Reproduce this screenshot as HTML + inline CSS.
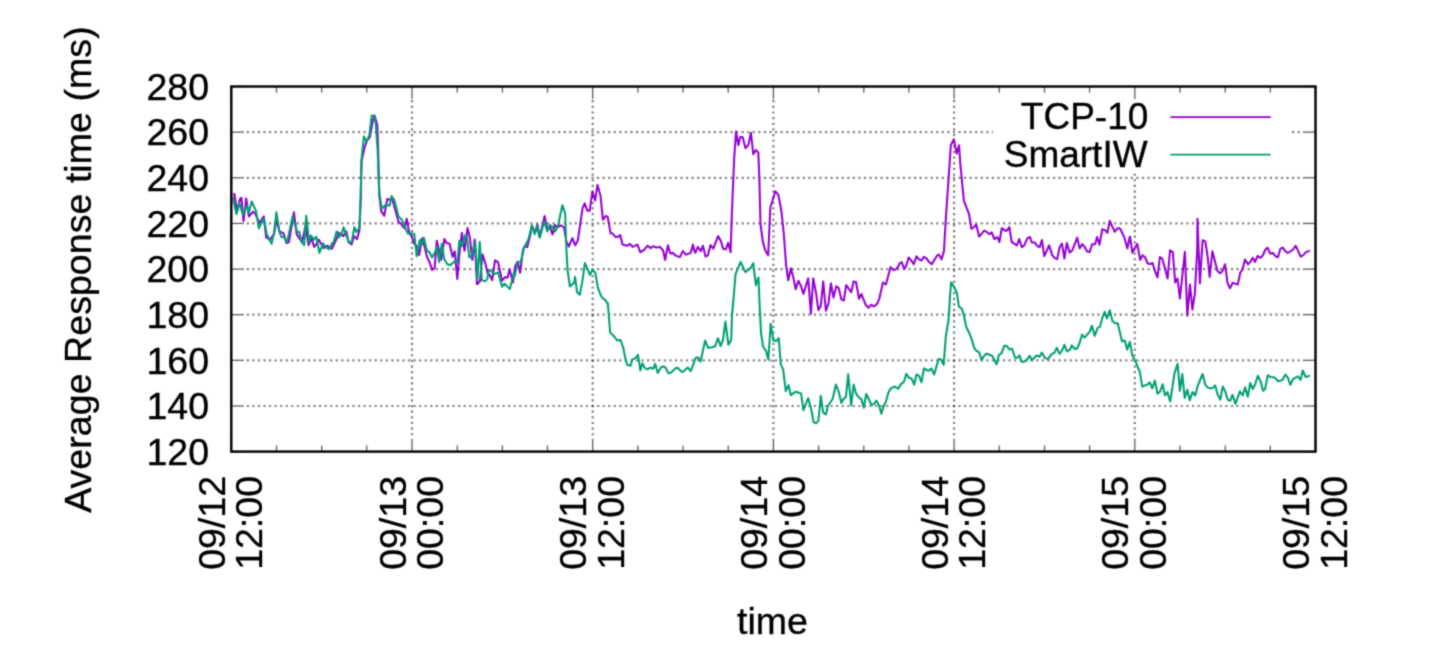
<!DOCTYPE html>
<html lang="en"><head><meta charset="utf-8"><title>Average Response time</title>
<style>
html,body{margin:0;padding:0;background:#fff;}
body{width:1432px;height:670px;overflow:hidden;}
svg{display:block;}
text{font-family:"Liberation Sans",Arial,Helvetica,sans-serif;font-size:37.5px;fill:#000;stroke:#000;stroke-width:.35px;}
.grid line{stroke:#000;stroke-width:2.2;}
.gh line{stroke-dasharray:2.2 3.36;stroke-dashoffset:1.25;stroke-opacity:.48;}
.gv line{stroke-dasharray:2.2 3.445;stroke-dashoffset:.7;stroke-opacity:.5;}
.tick line{stroke:#000;stroke-width:1.3;stroke-opacity:.62;}
.tickbg line{stroke:#fff;stroke-width:2.6;}
</style></head><body>
<svg width="1432" height="670" viewBox="0 0 1432 670">
<defs><filter id="soft" x="0" y="0" width="100%" height="100%" filterUnits="objectBoundingBox" color-interpolation-filters="sRGB"><feConvolveMatrix order="3" kernelMatrix="0.0311 0.1141 0.0311 0.1141 0.4191 0.1141 0.0311 0.1141 0.0311" divisor="1" edgeMode="duplicate" preserveAlpha="true"/></filter></defs>
<g filter="url(#soft)">
<rect width="1432" height="670" fill="#fff"/>
<g class="grid gh">
<line x1="231.3" y1="132.1" x2="1315.5" y2="132.1"/>
<line x1="231.3" y1="177.8" x2="1315.5" y2="177.8"/>
<line x1="231.3" y1="223.4" x2="1315.5" y2="223.4"/>
<line x1="231.3" y1="269.1" x2="1315.5" y2="269.1"/>
<line x1="231.3" y1="314.7" x2="1315.5" y2="314.7"/>
<line x1="231.3" y1="360.3" x2="1315.5" y2="360.3"/>
<line x1="231.3" y1="406.0" x2="1315.5" y2="406.0"/>
</g><g class="grid gv">
<line x1="412.0" y1="451.6" x2="412.0" y2="86.5"/>
<line x1="592.7" y1="451.6" x2="592.7" y2="86.5"/>
<line x1="773.4" y1="451.6" x2="773.4" y2="86.5"/>
<line x1="954.1" y1="451.6" x2="954.1" y2="86.5"/>
<line x1="1134.8" y1="451.6" x2="1134.8" y2="86.5"/>
</g>
<rect x="993" y="98" width="299" height="75.5" fill="#fff"/>
<path d="M232.8,194.3 L234.6,194.3 L237.0,212.3 L239.9,199.1 L241.4,197.9 L243.5,221.2 L246.2,198.5 L248.9,216.4 L253.1,211.7 L255.5,214.0 L259.3,223.0 L263.8,216.4 L266.2,237.3 L269.8,239.7 L274.0,234.4 L276.4,219.4 L279.4,231.4 L283.5,233.2 L286.5,243.3 L288.9,242.1 L293.9,212.3 L296.7,234.4 L302.1,242.1 L305.6,225.4 L308.6,245.1 L311.6,238.5 L314.2,246.9 L317.0,243.3 L318.8,239.7 L323.6,248.1 L327.1,245.7 L331.9,248.7 L336.7,238.5 L338.5,232.6 L343.3,236.1 L346.3,231.4 L348.6,242.1 L351.6,244.5 L354.0,236.1 L357.0,239.1 L359.4,230.2 L360.8,197.9 L361.5,160.9 L364.5,147.8 L366.9,140.6 L369.9,137.0 L372.8,120.3 L374.6,115.5 L377.3,125.1 L378.2,150.2 L378.8,180.0 L379.2,194.3 L381.2,211.1 L384.2,215.8 L387.2,199.1 L389.6,199.7 L392.0,197.9 L398.5,221.8 L400.9,223.6 L404.5,228.4 L406.7,218.8 L409.0,231.7 L411.9,237.1 L414.3,243.7 L416.7,246.1 L419.1,255.0 L422.1,238.3 L424.5,246.1 L426.9,256.8 L429.3,261.6 L432.3,269.9 L434.6,268.2 L436.8,240.7 L438.8,249.6 L441.2,259.8 L444.4,238.9 L446.6,243.1 L449.6,243.7 L452.6,256.8 L454.7,251.4 L457.3,278.9 L459.7,250.8 L461.9,232.9 L464.5,250.8 L467.5,228.1 L469.9,237.7 L472.3,259.8 L474.7,239.5 L477.0,284.3 L480.0,281.3 L482.4,254.4 L485.4,263.4 L487.8,274.1 L489.6,274.7 L492.2,280.1 L495.0,260.4 L498.0,262.2 L502.1,280.7 L505.1,277.1 L507.5,277.7 L509.7,269.4 L512.9,282.5 L515.3,265.8 L517.7,261.6 L520.1,272.9 L523.0,249.6 L524.8,246.1 L527.2,247.3 L530.2,235.3 L532.0,225.8 L535.0,232.9 L537.4,224.6 L539.2,234.1 L539.8,236.9 L544.6,216.0 L547.3,230.3 L549.7,226.1 L552.5,234.5 L554.8,224.9 L556.9,227.3 L561.1,225.5 L564.0,227.3 L566.4,241.7 L568.8,246.5 L572.4,238.1 L575.2,245.3 L577.8,240.5 L582.6,208.2 L584.7,203.4 L587.3,210.6 L589.7,210.6 L592.4,191.5 L595.1,200.5 L597.5,184.9 L600.5,195.7 L602.9,219.6 L605.9,216.0 L607.6,216.6 L610.6,233.3 L612.4,233.3 L615.4,236.9 L617.8,236.9 L620.2,235.1 L622.5,244.6 L626.7,245.8 L630.0,244.0 L632.6,246.9 L637.4,244.6 L640.4,252.3 L644.0,249.9 L647.6,245.8 L650.6,248.1 L653.0,246.3 L656.5,247.5 L660.1,246.9 L663.1,250.5 L665.1,260.1 L667.9,245.2 L670.3,253.5 L672.7,252.9 L676.2,255.9 L679.8,257.1 L682.8,251.1 L685.8,254.7 L690.6,252.9 L693.0,244.6 L694.2,250.5 L695.4,252.9 L697.8,246.9 L700.8,251.1 L702.9,245.7 L705.5,256.5 L707.9,255.3 L710.5,245.1 L713.3,248.7 L718.1,236.1 L720.8,240.9 L723.2,248.7 L725.8,249.3 L728.2,242.7 L730.6,252.3 L731.8,215.8 L734.2,157.8 L736.0,131.5 L738.4,145.2 L740.2,136.9 L742.6,136.9 L745.5,148.2 L748.5,144.6 L750.9,132.7 L753.3,154.2 L755.7,150.0 L758.3,152.4 L759.3,176.9 L760.5,224.2 L762.9,242.1 L765.3,250.5 L768.2,255.3 L770.3,207.5 L775.4,191.3 L778.4,194.9 L781.4,211.1 L783.8,233.8 L786.1,265.3 L788.2,280.2 L790.9,268.3 L793.3,277.3 L795.7,289.2 L798.4,280.8 L800.8,285.6 L803.4,294.0 L808.2,278.4 L810.9,313.7 L813.2,278.4 L816.0,292.8 L818.4,310.1 L820.8,305.9 L823.2,281.4 L825.9,310.7 L828.5,303.5 L830.9,283.2 L833.5,297.6 L836.3,286.2 L838.7,288.0 L841.4,299.4 L843.8,300.5 L846.2,285.0 L851.2,292.2 L853.6,281.4 L856.0,282.0 L859.0,298.8 L861.4,294.0 L865.6,304.7 L868.5,307.7 L871.3,304.7 L873.9,306.5 L876.9,304.1 L879.3,298.8 L882.9,282.6 L885.9,284.4 L890.6,267.1 L893.6,270.1 L896.6,268.9 L900.0,262.9 L901.8,262.3 L904.2,268.8 L906.0,266.5 L908.6,257.5 L911.3,260.5 L913.7,264.1 L916.5,256.3 L919.1,259.3 L921.5,260.5 L923.9,256.9 L926.3,258.1 L929.3,262.3 L931.7,264.1 L937.0,255.7 L938.8,254.5 L941.6,259.3 L944.0,250.9 L945.4,225.8 L946.6,206.7 L949.6,163.8 L950.8,145.2 L953.8,139.3 L956.7,153.6 L959.1,145.2 L960.3,163.8 L963.9,200.8 L969.0,213.9 L971.4,228.8 L974.1,227.0 L976.2,224.6 L979.1,236.6 L984.2,230.6 L986.6,231.8 L989.4,234.2 L991.7,232.4 L994.4,239.0 L997.4,237.2 L999.4,242.0 L1001.8,228.2 L1005.1,230.6 L1006.9,230.6 L1009.3,227.0 L1011.7,242.0 L1014.7,243.8 L1016.8,245.5 L1019.2,239.0 L1021.8,247.3 L1024.5,244.9 L1027.2,238.4 L1030.0,237.0 L1031.8,242.4 L1034.8,242.4 L1037.2,246.0 L1039.6,247.2 L1041.9,240.0 L1044.3,256.1 L1049.1,245.4 L1052.1,254.9 L1054.5,257.9 L1057.2,259.1 L1059.6,247.2 L1062.0,243.6 L1064.4,258.5 L1066.8,243.0 L1069.7,252.6 L1072.4,250.2 L1077.2,237.6 L1079.6,248.4 L1082.3,244.2 L1084.4,246.6 L1087.1,251.4 L1089.7,252.0 L1092.1,244.2 L1095.1,244.2 L1097.1,237.0 L1099.5,244.8 L1102.3,229.3 L1104.7,229.9 L1107.4,232.8 L1109.8,220.9 L1112.4,226.9 L1114.8,231.7 L1117.8,228.1 L1120.2,228.7 L1124.4,237.6 L1127.4,248.4 L1129.7,237.0 L1130.0,236.7 L1132.4,252.8 L1137.2,243.8 L1140.2,259.9 L1142.5,255.2 L1144.9,257.0 L1147.7,263.5 L1150.3,264.1 L1152.5,262.9 L1154.8,270.7 L1157.5,277.3 L1159.9,257.0 L1162.3,258.8 L1164.6,267.1 L1167.6,278.5 L1170.0,250.4 L1172.8,252.2 L1175.2,282.6 L1177.5,278.5 L1179.9,298.4 L1184.9,251.8 L1187.3,315.7 L1190.0,284.6 L1192.4,309.7 L1194.8,294.2 L1197.2,250.0 L1197.5,218.7 L1199.9,283.4 L1202.6,240.2 L1205.3,241.4 L1207.6,256.4 L1209.7,276.9 L1212.4,251.2 L1215.1,261.9 L1217.5,270.9 L1219.9,273.3 L1222.3,271.5 L1225.0,264.3 L1227.6,283.4 L1230.0,288.2 L1232.7,282.8 L1237.8,284.6 L1240.2,272.7 L1242.6,269.1 L1245.0,259.6 L1248.0,264.3 L1250.3,261.9 L1252.7,257.8 L1255.1,261.9 L1257.5,256.0 L1260.5,257.8 L1262.9,255.4 L1265.1,250.0 L1267.5,247.6 L1270.2,253.6 L1272.9,253.0 L1275.9,256.6 L1277.9,257.2 L1280.3,248.8 L1282.7,247.6 L1285.4,251.2 L1287.8,253.0 L1292.6,250.0 L1295.6,245.8 L1298.0,250.6 L1300.6,256.6 L1303.0,255.4 L1305.7,252.4 L1309.9,250.6" fill="none" stroke="#9400d3" stroke-width="2.05" stroke-linejoin="round" stroke-linecap="butt"/>
<path d="M232.8,196.7 L236.4,214.0 L239.3,202.7 L242.9,214.6 L246.5,205.7 L248.9,212.8 L251.7,201.5 L256.1,211.1 L258.8,228.4 L263.8,218.2 L266.8,234.4 L271.6,243.9 L274.0,232.6 L276.4,212.3 L279.4,231.4 L281.2,236.7 L284.1,237.3 L287.1,242.1 L292.5,217.0 L297.3,232.0 L299.4,232.0 L301.5,242.1 L304.2,245.1 L306.2,215.8 L309.2,242.1 L311.0,235.5 L314.0,239.7 L316.4,236.7 L319.4,252.9 L323.0,243.3 L326.0,247.5 L329.5,249.3 L331.9,243.3 L333.7,242.1 L336.7,231.4 L339.1,237.3 L342.1,232.6 L343.6,227.2 L346.3,235.5 L349.2,242.7 L351.6,242.1 L354.4,227.2 L356.4,232.0 L359.4,227.8 L360.6,197.9 L361.5,159.7 L363.9,136.4 L366.3,141.2 L369.3,135.8 L371.7,115.5 L374.0,116.1 L375.8,123.9 L377.6,150.2 L378.8,180.0 L379.4,193.1 L381.8,208.7 L386.0,204.5 L389.6,205.7 L391.6,196.1 L394.4,200.3 L398.5,216.4 L402.1,220.0 L405.1,227.8 L408.1,233.8 L409.0,232.9 L414.3,234.1 L416.7,256.2 L419.7,240.1 L421.5,244.9 L423.9,237.7 L426.9,250.8 L429.3,252.0 L432.0,257.4 L435.2,252.0 L437.0,246.7 L439.2,262.2 L441.8,243.7 L444.2,259.2 L447.2,264.0 L450.2,265.2 L454.4,261.6 L457.3,262.2 L459.4,240.7 L462.1,246.1 L465.1,235.3 L466.9,236.5 L469.3,257.4 L471.7,255.6 L475.3,242.5 L477.4,280.1 L479.8,241.9 L481.8,280.1 L484.8,281.3 L487.2,279.5 L489.0,269.9 L491.4,271.1 L494.4,274.1 L498.0,272.3 L502.1,286.7 L504.5,283.7 L509.9,289.1 L513.5,274.1 L514.7,275.9 L517.7,262.8 L520.6,262.2 L524.2,247.3 L528.4,239.5 L532.0,225.2 L534.7,234.1 L537.4,225.8 L539.2,236.5 L539.8,237.5 L544.3,221.4 L547.3,231.5 L549.7,224.9 L552.1,226.7 L555.1,231.5 L558.1,225.5 L562.3,205.2 L565.2,213.6 L566.4,248.8 L567.5,269.6 L569.9,286.4 L574.1,282.8 L575.1,276.8 L577.1,292.3 L579.8,294.7 L582.5,280.4 L584.9,263.1 L587.8,269.6 L589.9,275.0 L592.6,269.6 L595.4,273.2 L597.8,287.6 L601.0,295.9 L602.8,298.3 L605.2,300.1 L607.6,303.7 L607.8,303.0 L610.2,332.8 L613.1,335.2 L617.3,340.6 L620.5,340.0 L623.3,347.8 L625.7,360.3 L627.5,365.1 L630.5,365.7 L632.3,359.7 L635.8,357.9 L638.0,354.9 L640.4,370.5 L642.4,363.3 L644.8,368.1 L647.8,369.3 L650.2,367.5 L653.2,368.7 L655.2,363.9 L657.7,372.9 L660.9,367.5 L663.3,366.3 L665.5,367.5 L668.1,372.9 L670.5,372.9 L675.9,368.1 L678.2,368.1 L681.2,371.7 L683.0,371.7 L687.8,367.5 L690.8,371.1 L695.6,357.9 L698.0,357.3 L700.6,361.5 L705.1,340.6 L708.1,347.8 L712.3,347.2 L715.3,346.0 L718.0,338.2 L720.6,346.0 L723.0,340.0 L725.4,321.5 L728.4,344.8 L731.2,340.0 L732.0,315.5 L733.4,300.2 L735.6,273.9 L740.6,261.9 L745.4,272.1 L750.8,267.9 L753.2,263.1 L755.9,285.2 L758.5,277.5 L759.7,307.3 L761.1,333.9 L763.2,347.0 L765.9,350.6 L768.3,359.6 L770.7,323.7 L773.4,340.5 L776.1,341.1 L778.7,338.1 L780.8,364.4 L783.2,369.7 L785.8,391.1 L788.5,385.1 L790.9,395.2 L795.7,391.7 L801.1,393.4 L803.4,410.2 L808.2,398.2 L811.2,409.0 L813.6,422.1 L816.0,423.3 L818.4,420.9 L820.8,395.8 L823.2,412.6 L825.9,414.4 L827.9,406.0 L832.7,398.8 L835.9,384.5 L838.7,391.7 L841.4,403.0 L843.1,399.4 L845.9,397.0 L848.2,374.3 L851.2,405.4 L853.6,384.5 L856.0,393.4 L858.4,397.0 L861.4,399.4 L863.8,407.8 L866.2,394.0 L871.5,404.8 L873.9,404.2 L876.3,400.6 L879.3,406.0 L881.3,413.8 L883.5,406.6 L885.9,401.8 L888.3,392.8 L890.6,388.7 L893.6,386.9 L895.0,386.5 L898.0,388.8 L901.0,384.1 L904.0,381.7 L906.3,373.9 L908.7,377.5 L911.7,378.7 L914.1,384.7 L916.5,374.5 L918.9,375.7 L921.5,382.3 L923.9,368.5 L928.4,370.9 L931.4,368.5 L934.2,374.5 L938.6,359.0 L941.0,359.6 L943.7,364.9 L945.8,336.3 L948.2,321.9 L948.8,316.9 L949.9,297.8 L951.1,282.3 L954.1,287.0 L956.9,293.0 L958.9,306.7 L961.7,308.5 L963.7,314.5 L966.1,326.5 L966.4,327.3 L969.1,332.7 L971.5,338.7 L974.1,347.6 L976.2,350.6 L979.2,352.4 L981.6,360.2 L984.0,356.0 L986.7,353.6 L989.4,354.8 L992.4,356.0 L996.5,364.4 L998.9,354.8 L1001.3,353.6 L1004.3,345.8 L1006.7,345.8 L1009.4,349.4 L1012.1,348.8 L1015.1,357.8 L1017.4,357.8 L1019.5,355.4 L1021.9,362.0 L1024.6,361.4 L1027.0,359.6 L1029.4,356.0 L1030.0,356.1 L1031.8,360.3 L1036.6,355.5 L1039.6,356.7 L1041.9,352.6 L1044.9,357.9 L1047.9,359.1 L1051.5,354.4 L1054.5,352.6 L1056.9,347.8 L1059.6,353.8 L1062.3,350.2 L1064.4,344.8 L1067.0,351.4 L1070.0,349.6 L1071.8,345.4 L1074.8,349.0 L1077.2,348.4 L1079.6,343.0 L1082.0,334.6 L1084.7,337.6 L1089.7,331.7 L1091.9,325.7 L1094.7,335.8 L1097.5,328.1 L1099.9,326.9 L1102.3,317.9 L1104.7,311.9 L1107.0,318.5 L1109.8,310.2 L1112.4,320.9 L1115.1,323.3 L1117.8,323.3 L1122.0,341.2 L1125.0,340.6 L1125.0,341.2 L1127.2,349.6 L1129.8,341.8 L1132.2,354.9 L1135.8,362.1 L1139.9,372.3 L1142.3,386.6 L1144.7,385.4 L1147.1,384.8 L1149.8,382.4 L1152.2,388.4 L1154.9,380.6 L1157.5,393.8 L1160.2,391.4 L1162.6,384.2 L1165.0,395.5 L1167.4,392.0 L1170.2,401.5 L1174.6,372.8 L1177.6,363.9 L1179.9,390.8 L1182.3,374.0 L1184.7,397.9 L1187.4,389.6 L1189.7,400.3 L1192.5,392.0 L1195.2,395.5 L1197.9,385.4 L1202.6,374.0 L1205.3,384.8 L1207.4,387.2 L1210.1,388.4 L1212.8,387.8 L1215.2,385.4 L1217.6,394.4 L1220.3,399.7 L1222.7,386.6 L1225.3,391.4 L1227.7,399.7 L1230.1,400.9 L1232.5,394.9 L1235.5,403.9 L1239.9,391.4 L1242.7,395.5 L1245.1,387.2 L1247.8,396.7 L1250.2,383.0 L1252.8,389.0 L1255.2,384.2 L1257.8,375.8 L1260.6,381.2 L1263.0,390.8 L1265.1,389.0 L1267.8,375.2 L1270.5,377.0 L1274.7,377.6 L1278.2,381.2 L1282.4,380.0 L1285.4,374.6 L1287.8,377.6 L1290.4,384.8 L1293.2,378.8 L1298.0,376.4 L1300.6,380.0 L1302.7,370.5 L1305.7,377.0 L1309.9,375.8" fill="none" stroke="#009e73" stroke-width="2.05" stroke-linejoin="round" stroke-linecap="butt"/>
<line x1="1170.4" y1="117.1" x2="1270.8" y2="117.1" stroke="#9400d3" stroke-width="1.9"/>
<line x1="1170.4" y1="154.6" x2="1270.8" y2="154.6" stroke="#009e73" stroke-width="1.9"/>
<g class="tickbg"><line x1="231.3" y1="86.5" x2="243.9" y2="86.5"/><line x1="1315.5" y1="86.5" x2="1302.9" y2="86.5"/><line x1="231.3" y1="132.1" x2="243.9" y2="132.1"/><line x1="1315.5" y1="132.1" x2="1302.9" y2="132.1"/><line x1="231.3" y1="177.8" x2="243.9" y2="177.8"/><line x1="1315.5" y1="177.8" x2="1302.9" y2="177.8"/><line x1="231.3" y1="223.4" x2="243.9" y2="223.4"/><line x1="1315.5" y1="223.4" x2="1302.9" y2="223.4"/><line x1="231.3" y1="269.1" x2="243.9" y2="269.1"/><line x1="1315.5" y1="269.1" x2="1302.9" y2="269.1"/><line x1="231.3" y1="314.7" x2="243.9" y2="314.7"/><line x1="1315.5" y1="314.7" x2="1302.9" y2="314.7"/><line x1="231.3" y1="360.3" x2="243.9" y2="360.3"/><line x1="1315.5" y1="360.3" x2="1302.9" y2="360.3"/><line x1="231.3" y1="406.0" x2="243.9" y2="406.0"/><line x1="1315.5" y1="406.0" x2="1302.9" y2="406.0"/><line x1="231.3" y1="451.6" x2="243.9" y2="451.6"/><line x1="1315.5" y1="451.6" x2="1302.9" y2="451.6"/><line x1="231.3" y1="451.6" x2="231.3" y2="439.0"/><line x1="231.3" y1="86.5" x2="231.3" y2="99.1"/><line x1="276.5" y1="451.6" x2="276.5" y2="445.4"/><line x1="276.5" y1="86.5" x2="276.5" y2="92.7"/><line x1="321.7" y1="451.6" x2="321.7" y2="445.4"/><line x1="321.7" y1="86.5" x2="321.7" y2="92.7"/><line x1="366.8" y1="451.6" x2="366.8" y2="445.4"/><line x1="366.8" y1="86.5" x2="366.8" y2="92.7"/><line x1="412.0" y1="451.6" x2="412.0" y2="439.0"/><line x1="412.0" y1="86.5" x2="412.0" y2="99.1"/><line x1="457.2" y1="451.6" x2="457.2" y2="445.4"/><line x1="457.2" y1="86.5" x2="457.2" y2="92.7"/><line x1="502.4" y1="451.6" x2="502.4" y2="445.4"/><line x1="502.4" y1="86.5" x2="502.4" y2="92.7"/><line x1="547.5" y1="451.6" x2="547.5" y2="445.4"/><line x1="547.5" y1="86.5" x2="547.5" y2="92.7"/><line x1="592.7" y1="451.6" x2="592.7" y2="439.0"/><line x1="592.7" y1="86.5" x2="592.7" y2="99.1"/><line x1="637.9" y1="451.6" x2="637.9" y2="445.4"/><line x1="637.9" y1="86.5" x2="637.9" y2="92.7"/><line x1="683.0" y1="451.6" x2="683.0" y2="445.4"/><line x1="683.0" y1="86.5" x2="683.0" y2="92.7"/><line x1="728.2" y1="451.6" x2="728.2" y2="445.4"/><line x1="728.2" y1="86.5" x2="728.2" y2="92.7"/><line x1="773.4" y1="451.6" x2="773.4" y2="439.0"/><line x1="773.4" y1="86.5" x2="773.4" y2="99.1"/><line x1="818.6" y1="451.6" x2="818.6" y2="445.4"/><line x1="818.6" y1="86.5" x2="818.6" y2="92.7"/><line x1="863.8" y1="451.6" x2="863.8" y2="445.4"/><line x1="863.8" y1="86.5" x2="863.8" y2="92.7"/><line x1="908.9" y1="451.6" x2="908.9" y2="445.4"/><line x1="908.9" y1="86.5" x2="908.9" y2="92.7"/><line x1="954.1" y1="451.6" x2="954.1" y2="439.0"/><line x1="954.1" y1="86.5" x2="954.1" y2="99.1"/><line x1="999.3" y1="451.6" x2="999.3" y2="445.4"/><line x1="999.3" y1="86.5" x2="999.3" y2="92.7"/><line x1="1044.5" y1="451.6" x2="1044.5" y2="445.4"/><line x1="1044.5" y1="86.5" x2="1044.5" y2="92.7"/><line x1="1089.6" y1="451.6" x2="1089.6" y2="445.4"/><line x1="1089.6" y1="86.5" x2="1089.6" y2="92.7"/><line x1="1134.8" y1="451.6" x2="1134.8" y2="439.0"/><line x1="1134.8" y1="86.5" x2="1134.8" y2="99.1"/><line x1="1180.0" y1="451.6" x2="1180.0" y2="445.4"/><line x1="1180.0" y1="86.5" x2="1180.0" y2="92.7"/><line x1="1225.2" y1="451.6" x2="1225.2" y2="445.4"/><line x1="1225.2" y1="86.5" x2="1225.2" y2="92.7"/><line x1="1270.3" y1="451.6" x2="1270.3" y2="445.4"/><line x1="1270.3" y1="86.5" x2="1270.3" y2="92.7"/><line x1="1315.5" y1="451.6" x2="1315.5" y2="439.0"/><line x1="1315.5" y1="86.5" x2="1315.5" y2="99.1"/></g>
<g class="tick"><line x1="231.3" y1="86.5" x2="243.9" y2="86.5"/><line x1="1315.5" y1="86.5" x2="1302.9" y2="86.5"/><line x1="231.3" y1="132.1" x2="243.9" y2="132.1"/><line x1="1315.5" y1="132.1" x2="1302.9" y2="132.1"/><line x1="231.3" y1="177.8" x2="243.9" y2="177.8"/><line x1="1315.5" y1="177.8" x2="1302.9" y2="177.8"/><line x1="231.3" y1="223.4" x2="243.9" y2="223.4"/><line x1="1315.5" y1="223.4" x2="1302.9" y2="223.4"/><line x1="231.3" y1="269.1" x2="243.9" y2="269.1"/><line x1="1315.5" y1="269.1" x2="1302.9" y2="269.1"/><line x1="231.3" y1="314.7" x2="243.9" y2="314.7"/><line x1="1315.5" y1="314.7" x2="1302.9" y2="314.7"/><line x1="231.3" y1="360.3" x2="243.9" y2="360.3"/><line x1="1315.5" y1="360.3" x2="1302.9" y2="360.3"/><line x1="231.3" y1="406.0" x2="243.9" y2="406.0"/><line x1="1315.5" y1="406.0" x2="1302.9" y2="406.0"/><line x1="231.3" y1="451.6" x2="243.9" y2="451.6"/><line x1="1315.5" y1="451.6" x2="1302.9" y2="451.6"/><line x1="231.3" y1="451.6" x2="231.3" y2="439.0"/><line x1="231.3" y1="86.5" x2="231.3" y2="99.1"/><line x1="276.5" y1="451.6" x2="276.5" y2="445.4"/><line x1="276.5" y1="86.5" x2="276.5" y2="92.7"/><line x1="321.7" y1="451.6" x2="321.7" y2="445.4"/><line x1="321.7" y1="86.5" x2="321.7" y2="92.7"/><line x1="366.8" y1="451.6" x2="366.8" y2="445.4"/><line x1="366.8" y1="86.5" x2="366.8" y2="92.7"/><line x1="412.0" y1="451.6" x2="412.0" y2="439.0"/><line x1="412.0" y1="86.5" x2="412.0" y2="99.1"/><line x1="457.2" y1="451.6" x2="457.2" y2="445.4"/><line x1="457.2" y1="86.5" x2="457.2" y2="92.7"/><line x1="502.4" y1="451.6" x2="502.4" y2="445.4"/><line x1="502.4" y1="86.5" x2="502.4" y2="92.7"/><line x1="547.5" y1="451.6" x2="547.5" y2="445.4"/><line x1="547.5" y1="86.5" x2="547.5" y2="92.7"/><line x1="592.7" y1="451.6" x2="592.7" y2="439.0"/><line x1="592.7" y1="86.5" x2="592.7" y2="99.1"/><line x1="637.9" y1="451.6" x2="637.9" y2="445.4"/><line x1="637.9" y1="86.5" x2="637.9" y2="92.7"/><line x1="683.0" y1="451.6" x2="683.0" y2="445.4"/><line x1="683.0" y1="86.5" x2="683.0" y2="92.7"/><line x1="728.2" y1="451.6" x2="728.2" y2="445.4"/><line x1="728.2" y1="86.5" x2="728.2" y2="92.7"/><line x1="773.4" y1="451.6" x2="773.4" y2="439.0"/><line x1="773.4" y1="86.5" x2="773.4" y2="99.1"/><line x1="818.6" y1="451.6" x2="818.6" y2="445.4"/><line x1="818.6" y1="86.5" x2="818.6" y2="92.7"/><line x1="863.8" y1="451.6" x2="863.8" y2="445.4"/><line x1="863.8" y1="86.5" x2="863.8" y2="92.7"/><line x1="908.9" y1="451.6" x2="908.9" y2="445.4"/><line x1="908.9" y1="86.5" x2="908.9" y2="92.7"/><line x1="954.1" y1="451.6" x2="954.1" y2="439.0"/><line x1="954.1" y1="86.5" x2="954.1" y2="99.1"/><line x1="999.3" y1="451.6" x2="999.3" y2="445.4"/><line x1="999.3" y1="86.5" x2="999.3" y2="92.7"/><line x1="1044.5" y1="451.6" x2="1044.5" y2="445.4"/><line x1="1044.5" y1="86.5" x2="1044.5" y2="92.7"/><line x1="1089.6" y1="451.6" x2="1089.6" y2="445.4"/><line x1="1089.6" y1="86.5" x2="1089.6" y2="92.7"/><line x1="1134.8" y1="451.6" x2="1134.8" y2="439.0"/><line x1="1134.8" y1="86.5" x2="1134.8" y2="99.1"/><line x1="1180.0" y1="451.6" x2="1180.0" y2="445.4"/><line x1="1180.0" y1="86.5" x2="1180.0" y2="92.7"/><line x1="1225.2" y1="451.6" x2="1225.2" y2="445.4"/><line x1="1225.2" y1="86.5" x2="1225.2" y2="92.7"/><line x1="1270.3" y1="451.6" x2="1270.3" y2="445.4"/><line x1="1270.3" y1="86.5" x2="1270.3" y2="92.7"/><line x1="1315.5" y1="451.6" x2="1315.5" y2="439.0"/><line x1="1315.5" y1="86.5" x2="1315.5" y2="99.1"/></g>
<rect x="231.3" y="86.5" width="1084.2" height="365.1" fill="none" stroke="#000" stroke-width="2.4"/>
<text x="209" y="99.8" text-anchor="end">280</text>
<text x="209" y="145.4" text-anchor="end">260</text>
<text x="209" y="191.1" text-anchor="end">240</text>
<text x="209" y="236.7" text-anchor="end">220</text>
<text x="209" y="282.4" text-anchor="end">200</text>
<text x="209" y="328.0" text-anchor="end">180</text>
<text x="209" y="373.6" text-anchor="end">160</text>
<text x="209" y="419.3" text-anchor="end">140</text>
<text x="209" y="464.9" text-anchor="end">120</text>
<text transform="translate(224.9,476) rotate(-90)" text-anchor="end">09/12</text>
<text transform="translate(262.4,476) rotate(-90)" text-anchor="end">12:00</text>
<text transform="translate(405.6,476) rotate(-90)" text-anchor="end">09/13</text>
<text transform="translate(443.1,476) rotate(-90)" text-anchor="end">00:00</text>
<text transform="translate(586.3,476) rotate(-90)" text-anchor="end">09/13</text>
<text transform="translate(623.8,476) rotate(-90)" text-anchor="end">12:00</text>
<text transform="translate(767.0,476) rotate(-90)" text-anchor="end">09/14</text>
<text transform="translate(804.5,476) rotate(-90)" text-anchor="end">00:00</text>
<text transform="translate(947.7,476) rotate(-90)" text-anchor="end">09/14</text>
<text transform="translate(985.2,476) rotate(-90)" text-anchor="end">12:00</text>
<text transform="translate(1128.4,476) rotate(-90)" text-anchor="end">09/15</text>
<text transform="translate(1165.9,476) rotate(-90)" text-anchor="end">00:00</text>
<text transform="translate(1309.1,476) rotate(-90)" text-anchor="end">09/15</text>
<text transform="translate(1346.6,476) rotate(-90)" text-anchor="end">12:00</text>
<text x="772.5" y="633.5" text-anchor="middle">time</text>
<text transform="translate(90.8,269.6) rotate(-90)" text-anchor="middle" textLength="486.5" lengthAdjust="spacing">Average Response time (ms)</text>
<text x="1148.3" y="129.2" text-anchor="end" style="font-size:37px">TCP-10</text>
<text x="1147.6" y="167.1" text-anchor="end" style="font-size:37px">SmartIW</text>
</g></svg></body></html>
